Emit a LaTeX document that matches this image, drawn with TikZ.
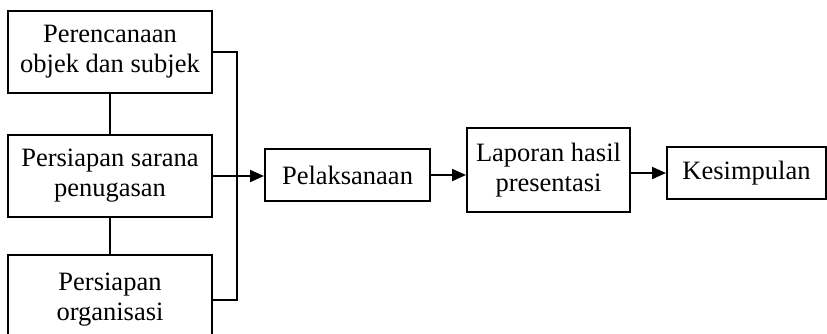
\documentclass[tikz,border=0pt]{standalone}
\usepackage{fontspec}
\setmainfont{Liberation Serif}
\usetikzlibrary{arrows.meta}
\begin{document}
\begin{tikzpicture}[x=1pt,y=-1pt,
  box/.style={draw, line width=2pt, align=center, inner sep=2pt,
    font=\fontsize{26.5}{30}\selectfont},
  link/.style={line width=2pt},
  arr/.style={line width=2pt, -{Triangle[length=14pt,width=12pt]}}]
\clip (0,0) rectangle (827,333);
\useasboundingbox (0,0) rectangle (827,333);
\node[box, minimum width=204pt, minimum height=82pt] (b1) at (110,52) {Perencanaan\\objek dan subjek};
\node[box, minimum width=204pt, minimum height=82pt] (b2) at (110,176) {Persiapan sarana\\penugasan};
\node[box, minimum width=204pt, minimum height=90pt] (b3) at (110,300) {Persiapan\\organisasi};
\node[box, minimum width=165pt, minimum height=52pt] (p) at (347.5,175) {Pelaksanaan};
\node[box, minimum width=163pt, minimum height=84pt] (l) at (548.5,170) {Laporan hasil\\presentasi};
\node[box, minimum width=159pt, minimum height=52pt] (k) at (746.5,173) {Kesimpulan};
\coordinate (br) at (237,52);
\draw[link] (b1.south) -- (b2.north);
\draw[link] (b2.south) -- (b3.north);
\draw[link] (b1.east) -- (br) |- (b3.east);
\draw[arr] (b2.east) -- (b2.east -| p.west);
\draw[arr] (p.east) -- (p.east -| l.west);
\draw[arr] (k.west -| l.east) -- (k.west);
\end{tikzpicture}
\end{document}
